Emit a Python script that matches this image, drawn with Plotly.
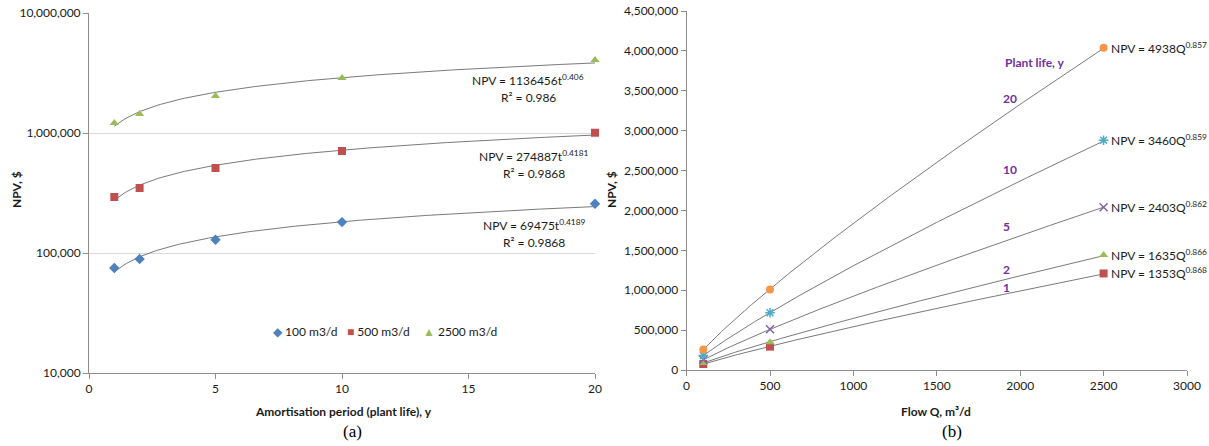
import numpy as np
import plotly.graph_objects as go

W, H = 1209, 446

# ---------- Data: chart (a) ----------
plant_life = [1, 2, 5, 10, 20]
npv_100 = [75000, 89000, 129000, 181000, 257000]
npv_500 = [293000, 348000, 511000, 708000, 1005000]
npv_2500 = [1210000, 1440000, 2030000, 2870000, 4050000]
fit_a_coef = [69475, 274887, 1136456]
fit_a_exp = [0.4189, 0.4181, 0.406]
fit_a_r2 = ["0.9868", "0.9868", "0.986"]
series_a_names = ["100 m3/d", "500 m3/d", "2500 m3/d"]

# ---------- Data: chart (b) ----------
flow_q = [100, 500, 2500]
npv_life1 = [75000, 293000, 1210000]
npv_life2 = [89000, 348000, 1440000]
npv_life5 = [129000, 511000, 2040000]
npv_life10 = [181000, 718000, 2880000]
npv_life20 = [257000, 1010000, 4040000]
fit_b_coef = [1353, 1635, 2403, 3460, 4938]
fit_b_exp = [0.868, 0.866, 0.862, 0.859, 0.857]
life_labels = ["1", "2", "5", "10", "20"]

FONT = "Lato"
TXT = "#1a1a1a"
GRAY_LINE = "#8c8c8c"
TREND = "#7a7a7a"
PURPLE = "#7030A0"

def px(x):
    return x / W

def py(y):
    return 1 - y / H

fig = go.Figure()

# ---------- chart (a) ----------
a_colors = ["#4F81BD", "#C0504D", "#9BBB59"]
a_symbols = ["diamond", "square", "triangle-up"]
a_glyphs = ["◆", "■", "▲"]
a_vals = [npv_100, npv_500, npv_2500]
tt = np.linspace(1, 20, 200)
for c, e in zip(fit_a_coef, fit_a_exp):
    fig.add_trace(go.Scatter(x=tt, y=c * tt ** e, mode="lines",
                             line=dict(color=TREND, width=1),
                             showlegend=False, hoverinfo="skip",
                             xaxis="x", yaxis="y"))
for name, vals, col, sym in zip(series_a_names, a_vals, a_colors, a_symbols):
    fig.add_trace(go.Scatter(x=plant_life, y=vals, mode="markers", name=name,
                             marker=dict(color=col, symbol=sym, size=8),
                             cliponaxis=False, showlegend=False,
                             xaxis="x", yaxis="y"))

# ---------- chart (b) ----------
b_vals = [npv_life1, npv_life2, npv_life5, npv_life10, npv_life20]
b_colors = ["#C0504D", "#9BBB59", "#8064A2", "#4BACC6", "#F79646"]
b_symbols = ["square", "triangle-up", "x-thin-open", "asterisk-open", "circle"]
qq = np.linspace(100, 2500, 200)
for c, e in zip(fit_b_coef, fit_b_exp):
    fig.add_trace(go.Scatter(x=qq, y=c * qq ** e, mode="lines",
                             line=dict(color=TREND, width=1),
                             showlegend=False, hoverinfo="skip",
                             xaxis="x2", yaxis="y2"))
for lab, vals, col, sym in zip(life_labels, b_vals, b_colors, b_symbols):
    mk = dict(color=col, symbol=sym, size=8)
    if "open" in sym:
        mk["line"] = dict(color=col, width=1.5)
    fig.add_trace(go.Scatter(x=flow_q, y=vals, mode="markers", name=f"{lab} y",
                             marker=mk, showlegend=False, cliponaxis=False,
                             xaxis="x2", yaxis="y2"))

tickfont = dict(family=FONT, size=12, color=TXT)

fig.update_layout(
    width=W, height=H,
    margin=dict(l=0, r=0, t=0, b=0, pad=0, autoexpand=False),
    paper_bgcolor="white", plot_bgcolor="white",
    font=dict(family=FONT, size=12, color=TXT),
    showlegend=False,
    xaxis=dict(domain=[px(89), px(595)], range=[0, 20], tickvals=[0, 5, 10, 15, 20],
               showgrid=False, zeroline=False, showline=True, linecolor=GRAY_LINE,
               ticks="outside", ticklen=5, tickcolor=GRAY_LINE, tickfont=tickfont,
               automargin=False, anchor="y"),
    yaxis=dict(domain=[py(373), py(13)], type="log", range=[4, 7],
               tickvals=[1e4, 1e5, 1e6, 1e7],
               ticktext=["10,000", "100,000", "1,000,000", "10,000,000"],
               showgrid=True, gridcolor="#d9d9d9", zeroline=False,
               showline=True, linecolor=GRAY_LINE,
               ticks="outside", ticklen=5, tickcolor=GRAY_LINE, tickfont=tickfont,
               automargin=False, anchor="x"),
    xaxis2=dict(domain=[px(686.6), px(1187)], range=[0, 3000], dtick=500,
                showgrid=False, zeroline=False, showline=True, linecolor=GRAY_LINE,
                ticks="outside", ticklen=5, tickcolor=GRAY_LINE, tickfont=tickfont,
                automargin=False, anchor="y2"),
    yaxis2=dict(domain=[py(370), py(11)], range=[0, 4500000], dtick=500000,
                tickformat=",", showgrid=False, zeroline=False,
                showline=True, linecolor=GRAY_LINE,
                ticks="outside", ticklen=5, tickcolor=GRAY_LINE, tickfont=tickfont,
                automargin=False, anchor="x2"),
)

ann = []
def text(x, y, s, size=12, color=TXT, family=FONT, xanchor="center", angle=0):
    ann.append(dict(xref="paper", yref="paper", x=px(x), y=py(y), text=s,
                    showarrow=False, xanchor=xanchor, yanchor="middle",
                    textangle=angle,
                    font=dict(family=family, size=size, color=color)))

# legend of chart (a)
leg_x = [275, 349, 425]
for g, col, name, lx in zip(a_glyphs, a_colors, series_a_names, leg_x):
    text(lx - 4, 331, f"<span style='color:{col}'>{g}</span> {name}", xanchor="left")

# equations on chart (a)
a_eq_pos = [(534, 225, 242), (534, 156, 173), (528, 80, 98)]
for c, e, r2, (cx, y1, y2) in zip(fit_a_coef, fit_a_exp, fit_a_r2, a_eq_pos):
    text(cx, y1, f"NPV = {c}t<sup>{e}</sup>")
    text(cx, y2, f"R² = {r2}")

# equations on chart (b), next to last point
for c, e, vals in zip(fit_b_coef, fit_b_exp, b_vals):
    ann.append(dict(xref="x2", yref="y2", x=flow_q[-1], y=vals[-1],
                    text=f"NPV = {c}Q<sup>{e}</sup>", showarrow=False,
                    xanchor="left", yanchor="middle", xshift=5,
                    font=dict(family=FONT, size=12, color=TXT)))

# purple labels
purple_pos = [(1006, 287), (1006, 269), (1006, 226), (1010, 169), (1010, 99)]
for lab, (x, y) in zip(life_labels, purple_pos):
    text(x, y, f"<b>{lab}</b>", color=PURPLE)
text(1035, 63, "<b>Plant life, y</b>", color=PURPLE)

# axis titles
text(16, 190, "<b>NPV, $</b>", angle=-90)
text(611, 190, "<b>NPV, $</b>", angle=-90)
text(343, 411, "<b>Amortisation period (plant life), y</b>")
text(936, 411, "<b>Flow Q, m³/d</b>")
text(352, 431, "(a)", size=17, color="#000000", family="Liberation Serif")
text(952, 431, "(b)", size=17, color="#000000", family="Liberation Serif")

fig.update_layout(annotations=ann)
fig.write_html("out.html", config={"displayModeBar": False},
               post_script="document.body.style.margin='0';document.body.style.overflow='hidden';")
